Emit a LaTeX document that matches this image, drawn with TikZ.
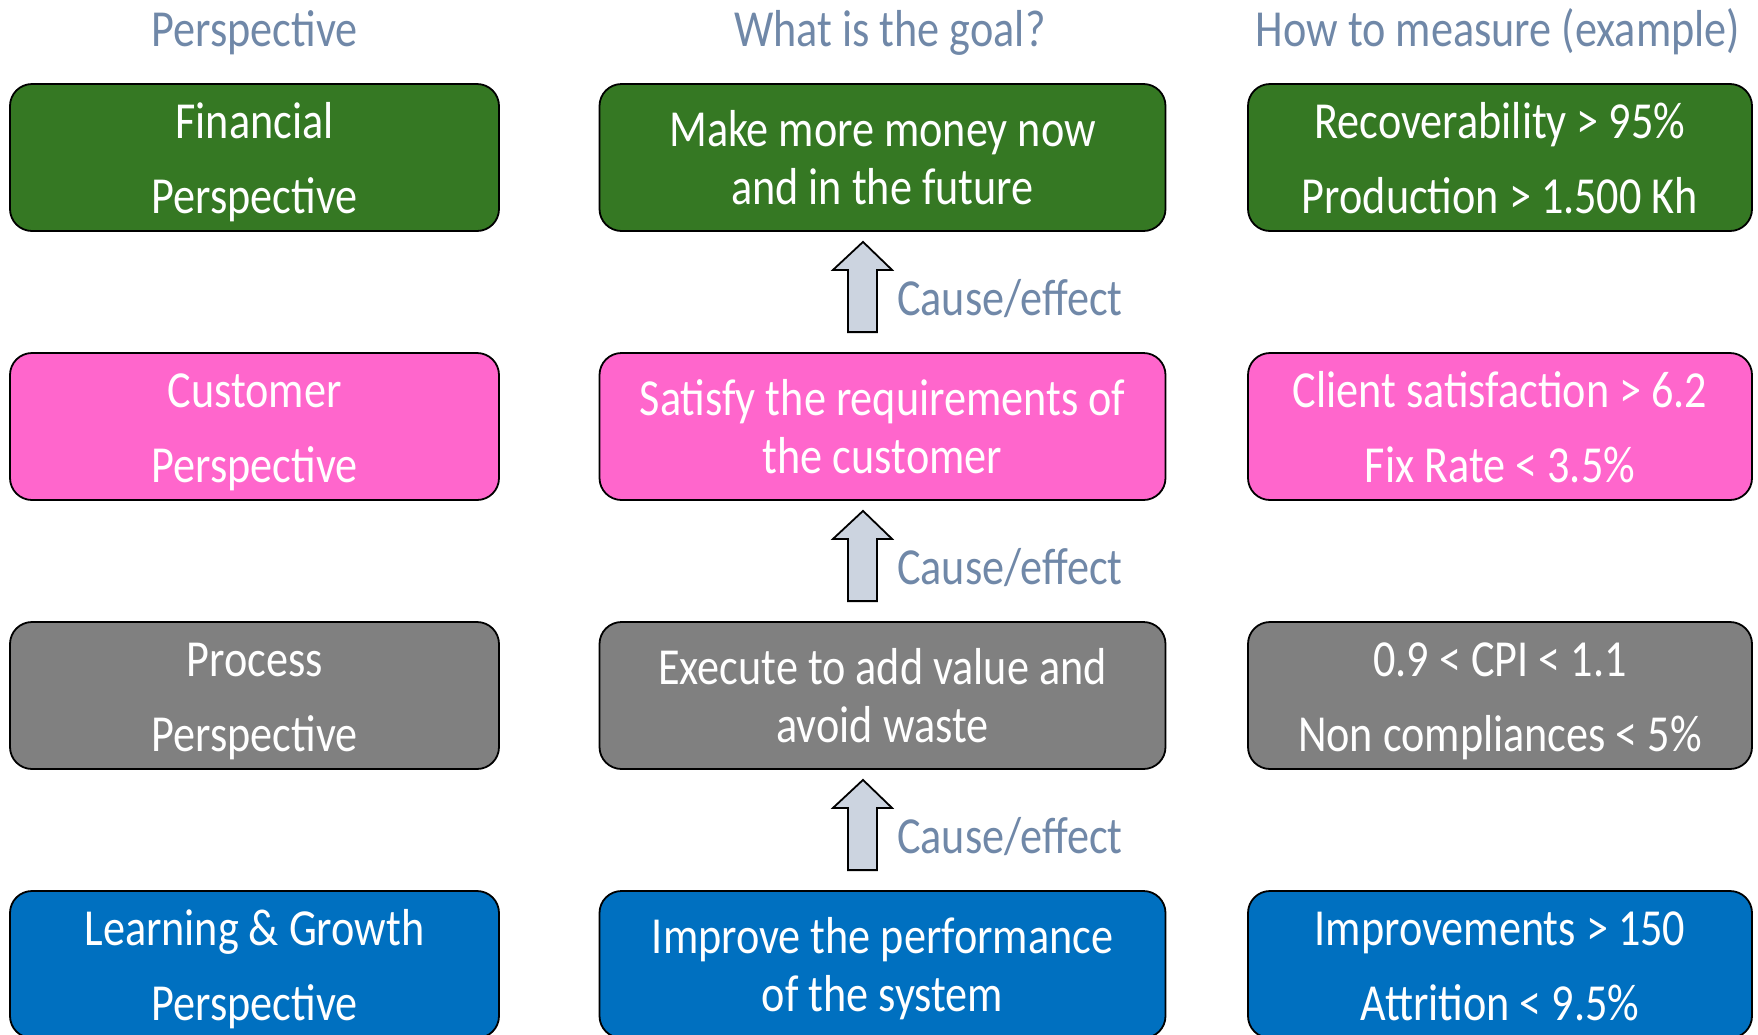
\documentclass[tikz,border=0pt]{standalone}
\usepackage{fontspec}
\setmainfont{Carlito}[FakeStretch=0.85]
\usetikzlibrary{calc}
\definecolor{finc}{RGB}{53,120,35}
\definecolor{custc}{RGB}{255,102,204}
\definecolor{procc}{RGB}{128,128,128}
\definecolor{learnc}{RGB}{0,112,192}
\definecolor{headc}{RGB}{112,136,168}
\definecolor{arrowc}{RGB}{204,212,224}
\newcommand\tstr{\rule{0pt}{48pt}}
\newcommand\bstr{\rule[-12pt]{0pt}{12pt}}
\newcommand\cearrow[2]{%
  \draw[causearrow] ($(#1.south)+(-19.5,10)$) -- ($(#1.south)+(9.5,38)$) -- ($(#1.south)+(-5.5,38)$)
    -- ($(#2.north)+(-5.5,-20)$) -- ($(#2.north)+(-34.5,-20)$) -- ($(#1.south)+(-34.5,38)$)
    -- ($(#1.south)+(-49.5,38)$) -- cycle;}
\begin{document}
\begin{tikzpicture}[x=1pt,y=-1pt,
  box/.style={draw=black, line width=1.8pt, rounded corners=22pt, text=white, align=center,
    minimum height=147pt, inner sep=0pt, font=\fontsize{52}{75}\selectfont},
  leftbox/.style={box, minimum width=489pt},
  midbox/.style={box, minimum width=566pt, font=\fontsize{52}{58}\selectfont},
  rightbox/.style={box, minimum width=504pt},
  header/.style={text=headc, font=\fontsize{52}{60}\selectfont, anchor=base, inner sep=0pt},
  celabel/.style={text=headc, font=\fontsize{52}{60}\selectfont, anchor=west, inner sep=0pt},
  causearrow/.style={draw=black, line width=1.8pt, fill=arrowc, line join=miter}]
\useasboundingbox (0,0) rectangle (1758,1034);
% headers
\node[header] (h1) at (254.5,46) {Perspective};
\node[header] (h2) at (890,46) {What is the goal?};
\node[header] (h3) at (1498,46) {How to measure (example)};
% row 1
\node[leftbox, fill=finc] (l1) at (254.5,157.5) {\tstr Financial\\Perspective\bstr};
\node[midbox, fill=finc] (m1) at (882.5,157.5) {\tstr Make more money now\\and in the future\bstr};
\node[rightbox, fill=finc] (r1) at (1500,157.5) {\tstr Recoverability > 95\%\\Production > 1.500 Kh\bstr};
% row 2
\node[leftbox, fill=custc] (l2) at (254.5,426.5) {\tstr Customer\\Perspective\bstr};
\node[midbox, fill=custc] (m2) at (882.5,426.5) {\tstr Satisfy the requirements of\\the customer\bstr};
\node[rightbox, fill=custc] (r2) at (1500,426.5) {\tstr Client satisfaction > 6.2\\Fix Rate < 3.5\%\bstr};
% row 3
\node[leftbox, fill=procc] (l3) at (254.5,695.5) {\tstr Process\\Perspective\bstr};
\node[midbox, fill=procc] (m3) at (882.5,695.5) {\tstr Execute to add value and\\avoid waste\bstr};
\node[rightbox, fill=procc] (r3) at (1500,695.5) {\tstr 0.9 < CPI < 1.1\\Non compliances < 5\%\bstr};
% row 4
\node[leftbox, fill=learnc] (l4) at (254.5,964.5) {\tstr Learning \& Growth\\Perspective\bstr};
\node[midbox, fill=learnc] (m4) at (882.5,964.5) {\tstr Improve the performance\\of the system\bstr};
\node[rightbox, fill=learnc] (r4) at (1500,964.5) {\tstr Improvements > 150\\Attrition < 9.5\%\bstr};
% cause/effect arrows
\cearrow{m1}{m2}
\cearrow{m2}{m3}
\cearrow{m3}{m4}
\node[celabel] (c1) at ($(m1.south)+(14.5,67)$) {Cause/effect};
\node[celabel] (c2) at ($(m2.south)+(14.5,67)$) {Cause/effect};
\node[celabel] (c3) at ($(m3.south)+(14.5,67)$) {Cause/effect};
\end{tikzpicture}
\end{document}
